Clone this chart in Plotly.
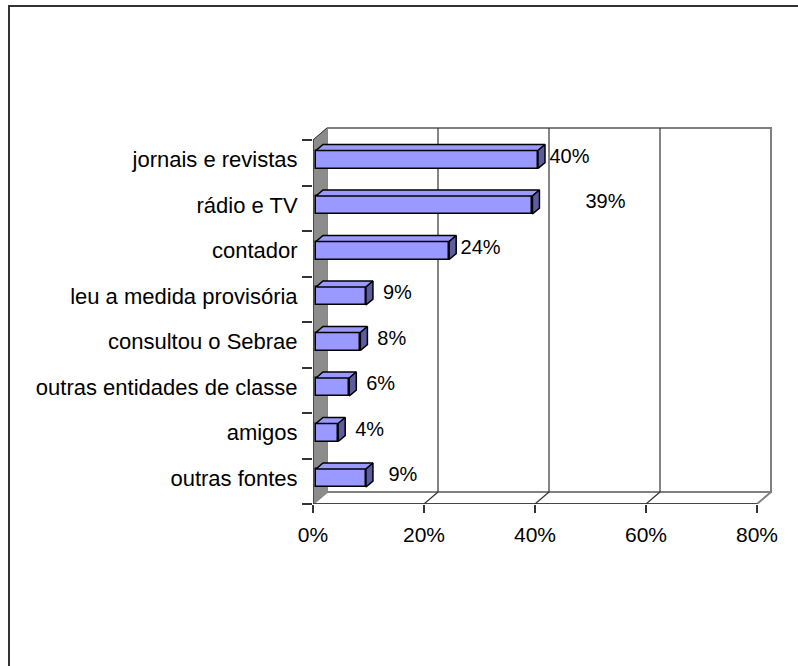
import plotly.graph_objects as go

categories = [
    "jornais e revistas",
    "rádio e TV",
    "contador",
    "leu a medida provisória",
    "consultou o Sebrae",
    "outras entidades de classe",
    "amigos",
    "outras fontes",
]
values = [40, 39, 24, 9, 8, 6, 4, 9]
value_labels = ["40%", "39%", "24%", "9%", "8%", "6%", "4%", "9%"]
x_ticks = [0, 20, 40, 60, 80]
x_tick_labels = ["0%", "20%", "40%", "60%", "80%"]

# pixel geometry of the Excel style 3-D frame
PX_PCT = 5.55        # pixels per percent
PX_CAT = 45.5        # pixels per category row
L, R, T, B = 313, 785, 118, 504
W, H = 798, 666

def px_x(p):
    return p / PX_PCT

def px_y(p):
    return p / PX_CAT

wall_dx, wall_dy = px_x(14), px_y(12)
bar_dx, bar_dy = px_x(3), px_y(3.2)
face_dx, face_dy = px_x(7), px_y(6)
bar_w = px_y(18)

n = len(categories)
idx = list(range(n))
y_top, y_bot = -0.5, n - 0.5
x_max = x_ticks[-1]
y_bar = [i - bar_dy for i in idx]

FONT = "Liberation Sans, Arial, sans-serif"
DARK = "#333333"
GREY = "#808080"

fig = go.Figure()

def poly(xs, ys, fill, line, lw=1, z=0):
    fig.add_trace(go.Scatter(
        x=xs + [xs[0]], y=ys + [ys[0]], mode="lines", fill="toself",
        fillcolor=fill, line=dict(color=line, width=lw),
        hoverinfo="skip", showlegend=False, zorder=z))

def seg(xs, ys, color, lw=1, z=0):
    fig.add_trace(go.Scatter(
        x=xs, y=ys, mode="lines", line=dict(color=color, width=lw),
        hoverinfo="skip", showlegend=False, zorder=z))

# back wall
poly([wall_dx, x_max + wall_dx, x_max + wall_dx, wall_dx],
     [y_top - wall_dy, y_top - wall_dy, y_bot - wall_dy, y_bot - wall_dy],
     "white", GREY, 2)
# floor
poly([0, x_max, x_max + wall_dx, wall_dx],
     [y_bot, y_bot, y_bot - wall_dy, y_bot - wall_dy], "white", GREY, 2)
# side wall
poly([0, wall_dx, wall_dx, 0],
     [y_top, y_top - wall_dy, y_bot - wall_dy, y_bot], "#8c8c8c", "#8c8c8c", 1)
seg([0, wall_dx], [y_top, y_top - wall_dy], DARK, 1)

# gridlines on back wall and floor
for g in x_ticks[1:-1]:
    seg([g + wall_dx, g + wall_dx], [y_top - wall_dy, y_bot - wall_dy], DARK, 1.2)
    seg([g, g + wall_dx], [y_bot, y_bot - wall_dy], DARK, 1.2)

# axis lines
seg([0, x_max], [y_bot, y_bot], DARK, 1.5)
seg([0, 0], [y_top, y_bot], DARK, 1.5)

# bars (front faces)
fig.add_trace(go.Bar(
    x=values, y=y_bar, base=bar_dx, orientation="h", width=bar_w,
    marker=dict(color="#9999ff", line=dict(color="black", width=1.5)),
    hoverinfo="skip", showlegend=False, zorder=1))

# top and side faces of the bars
for v, yc in zip(values, y_bar):
    x0, x1 = bar_dx, bar_dx + v
    yt, yb = yc - bar_w / 2, yc + bar_w / 2
    poly([x0, x1, x1 + face_dx, x0 + face_dx],
         [yt, yt, yt - face_dy, yt - face_dy], "#9999ff", "black", 1.5, 2)
    poly([x1, x1 + face_dx, x1 + face_dx, x1],
         [yt, yt - face_dy, yb - face_dy, yb], "#5c5c9e", "black", 1.5, 2)

# data labels
label_nudge = [0, 7.5, 0, 0, 0, 0, 0, 1]
fig.add_trace(go.Scatter(
    x=[v + 6.2 + d for v, d in zip(values, label_nudge)],
    y=[yc - px_y(2) for yc in y_bar],
    mode="text", text=value_labels, textposition="middle center",
    textfont=dict(family=FONT, size=20, color="black"),
    cliponaxis=False, hoverinfo="skip", showlegend=False, zorder=3))

# invisible trace to carry the boundary ticks on the secondary axis
fig.add_trace(go.Scatter(x=[None], y=[None], yaxis="y2", showlegend=False))

y_range = [y_bot, y_bot - px_y(B - T)]

fig.update_layout(
    width=W, height=H,
    margin=dict(l=L, r=W - R, t=T, b=H - B, pad=0),
    paper_bgcolor="white", plot_bgcolor="white",
    font=dict(family=FONT, size=20, color="black"),
    bargap=0,
    xaxis=dict(
        range=[0, px_x(R - L)], tickvals=x_ticks, ticktext=x_tick_labels,
        ticks="outside", ticklen=8, tickcolor=DARK, tickwidth=1.5,
        showgrid=False, zeroline=False, showline=False,
        tickfont=dict(size=21), ticklabelstandoff=4),
    yaxis=dict(
        range=y_range, tickvals=y_bar, ticktext=categories,
        ticks="outside", ticklen=10, tickcolor="rgba(0,0,0,0)",
        showgrid=False, zeroline=False, showline=False,
        tickfont=dict(size=22)),
    yaxis2=dict(
        range=y_range, overlaying="y", side="left",
        tickvals=[i - 0.5 for i in range(n + 1)], showticklabels=False,
        ticks="outside", ticklen=10, tickcolor=DARK, tickwidth=1.5,
        showgrid=False, zeroline=False, showline=False),
    shapes=[dict(
        type="rect", xref="paper", yref="paper",
        x0=(9 - L) / (R - L), x1=(812 - L) / (R - L),
        y0=(B - 680) / (B - T), y1=(B - 6) / (B - T),
        line=dict(color=DARK, width=2), fillcolor="rgba(0,0,0,0)")],
)

fig.write_html("out.html", config={"displayModeBar": False},
               post_script="document.body.style.margin='0px';")
